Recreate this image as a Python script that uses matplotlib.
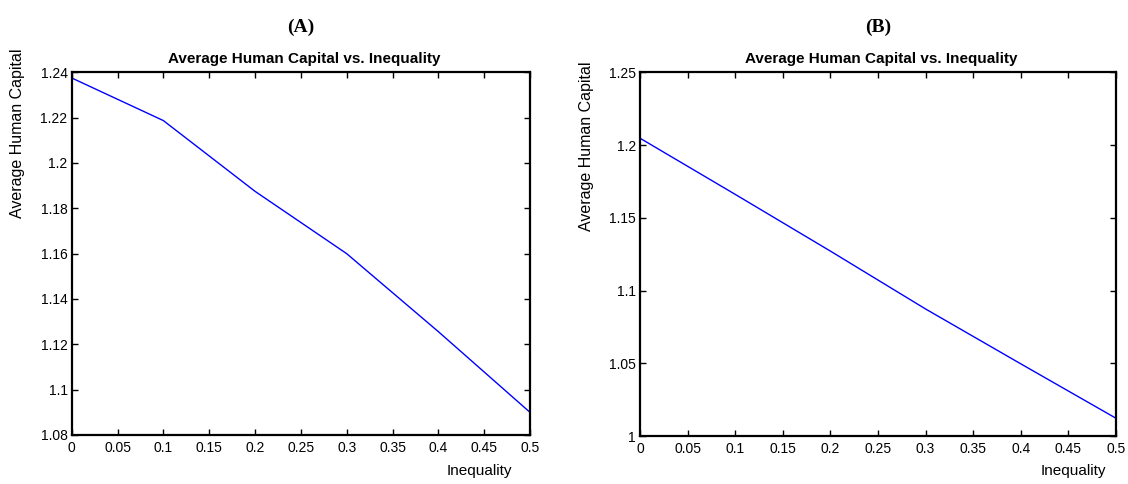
import matplotlib
matplotlib.use("Agg")
import matplotlib.pyplot as plt
from matplotlib.ticker import FixedLocator, FuncFormatter

# Data
inequality = [0.0, 0.1, 0.2, 0.3, 0.4, 0.5]
hc_a = [1.2375, 1.2187, 1.1875, 1.1600, 1.1256, 1.0900]
hc_b = [1.2047, 1.1661, 1.1271, 1.0873, 1.0496, 1.0122]

xticks = [0, 0.05, 0.1, 0.15, 0.2, 0.25, 0.3, 0.35, 0.4, 0.45, 0.5]
yticks_a = [1.08, 1.10, 1.12, 1.14, 1.16, 1.18, 1.20, 1.22, 1.24]
yticks_b = [1.00, 1.05, 1.10, 1.15, 1.20, 1.25]

panel_labels = ["(A)", "(B)"]
subtitle = "Average Human Capital vs. Inequality"
ylabel = "Average Human Capital"
xlabel = "Inequality"

W, H = 1128, 484
fig = plt.figure(figsize=(W / 100, H / 100), dpi=100)
plt.rcParams['font.family'] = ['Liberation Sans', 'DejaVu Sans']

def px_axes(x0, y0, x1, y1):
    return fig.add_axes([x0 / W, 1 - y1 / H, (x1 - x0) / W, (y1 - y0) / H])

fmt = FuncFormatter(lambda v, p: f"{v:g}")

panels = [
    dict(box=(71.7, 72.3, 530, 435), y=hc_a, yt=yticks_a, lab=panel_labels[0],
         ylx=18, ylb=218, xlx=479),
    dict(box=(640, 72.3, 1116, 436), y=hc_b, yt=yticks_b, lab=panel_labels[1],
         ylx=587, ylb=231, xlx=1073),
]

for p in panels:
    x0, y0, x1, y1 = p['box']
    ax = px_axes(x0, y0, x1, y1)
    ax.plot(inequality, p['y'], color='#0000ff', lw=1.0)
    ax.set_xlim(0, 0.5)
    ax.set_ylim(p['yt'][0], p['yt'][-1])
    ax.xaxis.set_major_locator(FixedLocator(xticks))
    ax.yaxis.set_major_locator(FixedLocator(p['yt']))
    ax.xaxis.set_major_formatter(fmt)
    ax.yaxis.set_major_formatter(fmt)
    ax.tick_params(direction='in', top=True, right=True, length=4, width=1.0,
                   labelsize=10, colors='#000000')
    ax.tick_params(axis='x', pad=4)
    ax.tick_params(axis='y', pad=3)
    for s in ax.spines.values():
        s.set_linewidth(1.6)
        s.set_color('#000000')
    cx = (x0 + x1) / 2
    fig.text(cx / W, 1 - 27 / H, p['lab'], ha='center', va='center',
             fontsize=14, fontweight='bold', family=['Liberation Serif', 'DejaVu Serif'])
    fig.text((cx + 3) / W, 1 - 59 / H, subtitle, ha='center', va='center',
             fontsize=11, fontweight='bold')
    fig.text(p['ylx'] / W, 1 - p['ylb'] / H, ylabel, rotation=90, ha='center',
             va='bottom', fontsize=11.5)
    fig.text(p['xlx'] / W, 1 - 471 / H, xlabel, ha='center', va='center', fontsize=11)

fig.savefig("out.png", dpi=100, facecolor='white')
